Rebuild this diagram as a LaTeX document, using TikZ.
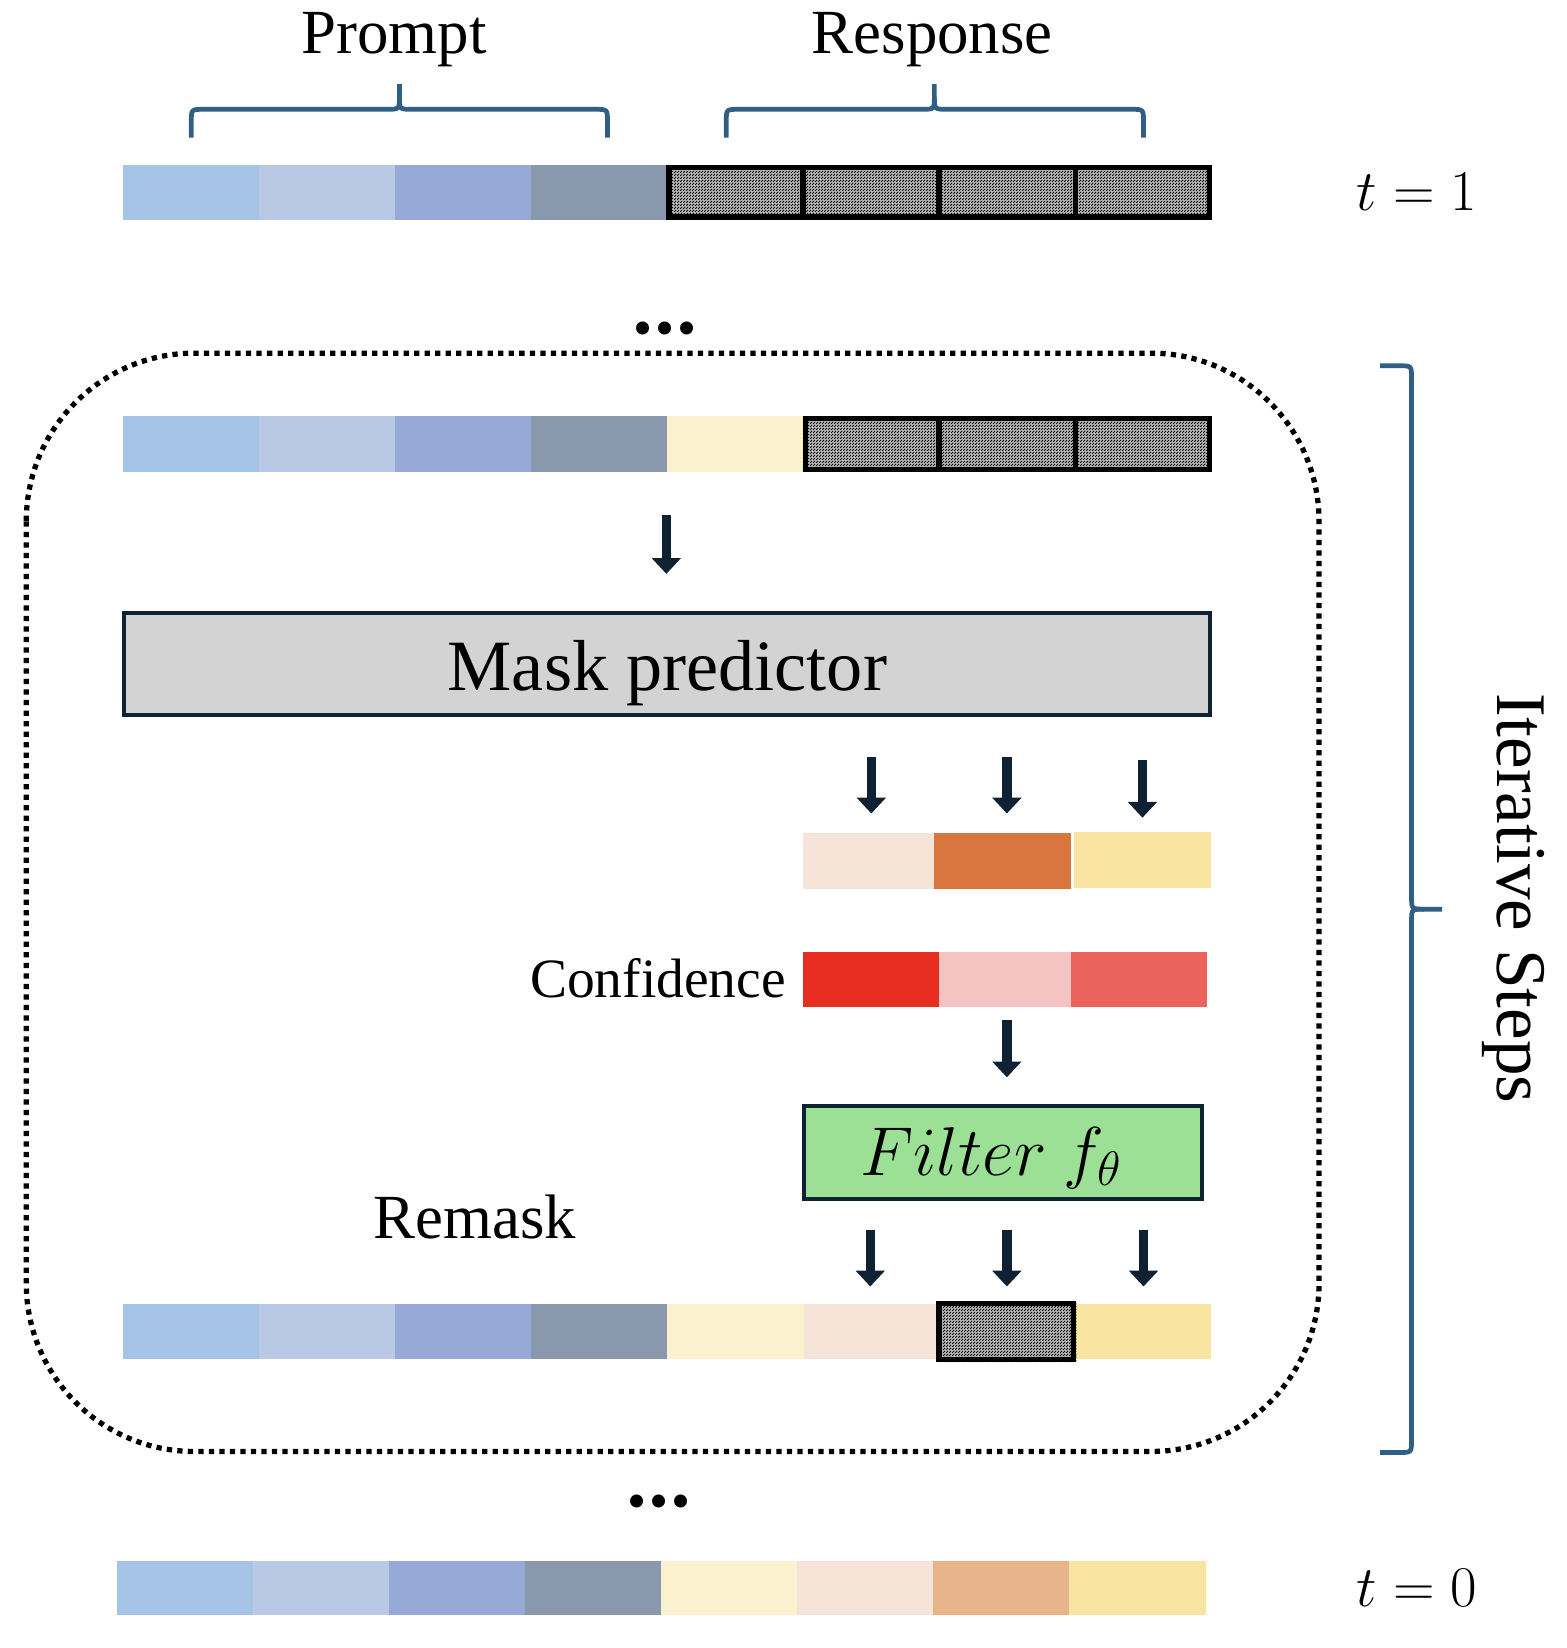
\documentclass[tikz,border=0pt]{standalone}
\usepackage{fix-cm}
\usepackage{fontspec}
\setmainfont{Liberation Serif}
\usetikzlibrary{arrows.meta,patterns}
\definecolor{bA}{HTML}{A6C4E5}
\definecolor{bB}{HTML}{B8C8E5}
\definecolor{bC}{HTML}{97AAD7}
\definecolor{bD}{HTML}{8A98AE}
\definecolor{cream}{HTML}{FCF1CF}
\definecolor{peach}{HTML}{F7E4D8}
\definecolor{orng}{HTML}{D9763F}
\definecolor{yell}{HTML}{F9E5A1}
\definecolor{tan}{HTML}{E8B489}
\definecolor{redc}{HTML}{E82E20}
\definecolor{pinkc}{HTML}{F4C3C2}
\definecolor{salm}{HTML}{EB635C}
\definecolor{grn}{HTML}{9CE096}
\definecolor{boxgray}{HTML}{D3D3D3}
\definecolor{navy}{HTML}{0E2233}
\definecolor{bracec}{HTML}{2F5F85}
\definecolor{maskbg}{HTML}{B4B4B4}
\pgfdeclarepatternformonly{chk}{\pgfqpoint{0pt}{0pt}}{\pgfqpoint{2.4pt}{2.4pt}}{\pgfqpoint{2.4pt}{2.4pt}}{%
  \pgfpathrectangle{\pgfqpoint{0pt}{0pt}}{\pgfqpoint{1.2pt}{1.2pt}}%
  \pgfpathrectangle{\pgfqpoint{1.2pt}{1.2pt}}{\pgfqpoint{1.2pt}{1.2pt}}%
  \pgfusepath{fill}}
\newcommand\fsz[1]{\fontsize{#1}{#1}\selectfont}
\begin{document}
\begin{tikzpicture}[x=1bp,y=-1bp,
  arr/.style={draw=navy, line width=9bp, -{Triangle[width=27bp,length=15bp]}},
  bracestyle/.style={draw=bracec, line width=4.5bp},
  maskfill/.style={pattern=chk, pattern color=black},
  maskline/.style={draw=black, line width=5bp},
  lbl/.style={inner sep=0pt, font=\fsz{60}},
  dotstyle/.style={inner sep=0pt, font=\fsz{52}}]
\useasboundingbox (0,0) rectangle (1490,1568);

% ---------- labels and braces at top ----------
\node[lbl] (prompt) at (375,38) {Prompt};
\node[lbl] (response) at (887,38) {Response};
\draw[bracestyle] (182,131) -- (182,116) .. controls (182,104) .. (194,104) -- (368,104)
  .. controls (380,104) .. (380,92) -- (380,80);
\draw[bracestyle] (380,92) .. controls (380,104) .. (392,104) -- (566,104)
  .. controls (578,104) .. (578,116) -- (578,131);
\draw[bracestyle] (691,131) -- (691,116) .. controls (691,104) .. (703,104) -- (877,104)
  .. controls (889,104) .. (889,92) -- (889,80);
\draw[bracestyle] (889,92) .. controls (889,104) .. (901,104) -- (1076,104)
  .. controls (1088,104) .. (1088,116) -- (1088,131);

% ---------- row t=1 ----------
\foreach \c [count=\i from 0] in {bA,bB,bC,bD}
  \fill[\c] (117+129.5*\i,157) rectangle (246.5+129.5*\i,209);
\fill[maskbg] (634,157) rectangle (1153,209);
\fill[maskfill] (634,157) rectangle (1153,209);
\draw[maskline] (636.5,159.5) rectangle (1150.5,206.5);
\foreach \x in {764,893.5,1023} \draw[maskline] (\x,157) -- (\x,209);
\node[inner sep=0pt, font=\fsz{55}] (t1) at (1348,183) {$t = 1$};

\node[dotstyle] (dots1) at (633,318) {•\kern3bp•\kern3bp•};

% ---------- dotted rounded frame ----------
\draw[black, line width=5bp, dash pattern=on 5bp off 5bp, rounded corners=160bp]
  (25,336) rectangle (1255,1381);

% ---------- row 2 ----------
\foreach \c [count=\i from 0] in {bA,bB,bC,bD,cream}
  \fill[\c] (117+129.5*\i,396) rectangle (246.5+129.5*\i,449);
\fill[maskbg] (764,396) rectangle (1153,449);
\fill[maskfill] (764,396) rectangle (1153,449);
\draw[maskline] (766.5,398.5) rectangle (1150.5,446.5);
\foreach \x in {893.5,1023} \draw[maskline] (\x,396) -- (\x,449);

\coordinate (a0s) at (634,490);
\coordinate (a0e) at (634,546);
\draw[arr] (a0s) -- (a0e);

% ---------- mask predictor ----------
\node[draw=navy, line width=4bp, fill=boxgray, minimum width=1033bp, minimum height=97bp,
  inner sep=0pt] (mp) at (634.5,631.5) {};
\node[inner sep=0pt, font=\fsz{69}] (mptext) at (635,640) {Mask predictor};

\foreach \x/\ys/\ye [count=\k] in {829/720/774, 958/720/774, 1087/723/778} {
  \coordinate (b\k s) at (\x,\ys);
  \coordinate (b\k e) at (\x,\ye);
  \draw[arr] (b\k s) -- (b\k e);
}

% ---------- predicted tokens ----------
\fill[peach] (764,793) rectangle (889,846);
\fill[orng] (889,793) rectangle (1019,846);
\fill[yell] (1022,792) rectangle (1152,845);

% ---------- confidence ----------
\node[inner sep=0pt, anchor=east, font=\fsz{53}] (conf) at (748,931) {Confidence};
\fill[redc] (764,906) rectangle (893,958);
\fill[pinkc] (893,906) rectangle (1019,958);
\fill[salm] (1019,906) rectangle (1148,958);

\coordinate (c0s) at (958,970);
\coordinate (c0e) at (958,1025);
\draw[arr] (c0s) -- (c0e);

% ---------- filter ----------
\node[draw=navy, line width=4bp, fill=grn, minimum width=379bp, minimum height=89bp,
  inner sep=0pt] (flt) at (954.5,1096.5) {};
\node[inner sep=0pt, font=\fsz{66}] (flttext) at (943,1102) {$Filter\ f_\theta$};

\foreach \x [count=\k] in {828,958,1088} {
  \coordinate (d\k s) at (\x,1170);
  \coordinate (d\k e) at (\x,1224);
  \draw[arr] (d\k s) -- (d\k e);
}

\node[lbl] (remask) at (452,1158) {Remask};

% ---------- row after remask ----------
\foreach \c [count=\i from 0] in {bA,bB,bC,bD,cream,peach}
  \fill[\c] (117+129.5*\i,1241) rectangle (246.5+129.5*\i,1293);
\fill[yell] (1022,1241) rectangle (1152,1293);
\fill[maskbg] (891,1238) rectangle (1024,1296);
\fill[maskfill] (891,1238) rectangle (1024,1296);
\draw[maskline] (893.5,1240.5) rectangle (1021.5,1293.5);

% ---------- iterative steps brace ----------
\draw[bracestyle] (1313,348) -- (1331,348) .. controls (1343,348) .. (1343,360) -- (1343,853)
  .. controls (1343,865) .. (1355,865) -- (1372,865);
\draw[bracestyle] (1355,865) .. controls (1343,865) .. (1343,877) -- (1343,1370)
  .. controls (1343,1382) .. (1331,1382) -- (1313,1382);
\node[inner sep=0pt, rotate=-90, font=\fsz{68}] (iter) at (1440,855) {Iterative Steps};

\node[dotstyle] (dots2) at (627,1434) {•\kern3bp•\kern3bp•};

% ---------- row t=0 ----------
\foreach \c [count=\i from 0] in {bA,bB,bC,bD,cream,peach,tan,yell}
  \fill[\c] (111+129.5*\i,1485) rectangle (240.5+129.5*\i,1537);
\node[inner sep=0pt, font=\fsz{55}] (t0) at (1348,1511) {$t = 0$};
\end{tikzpicture}
\end{document}
